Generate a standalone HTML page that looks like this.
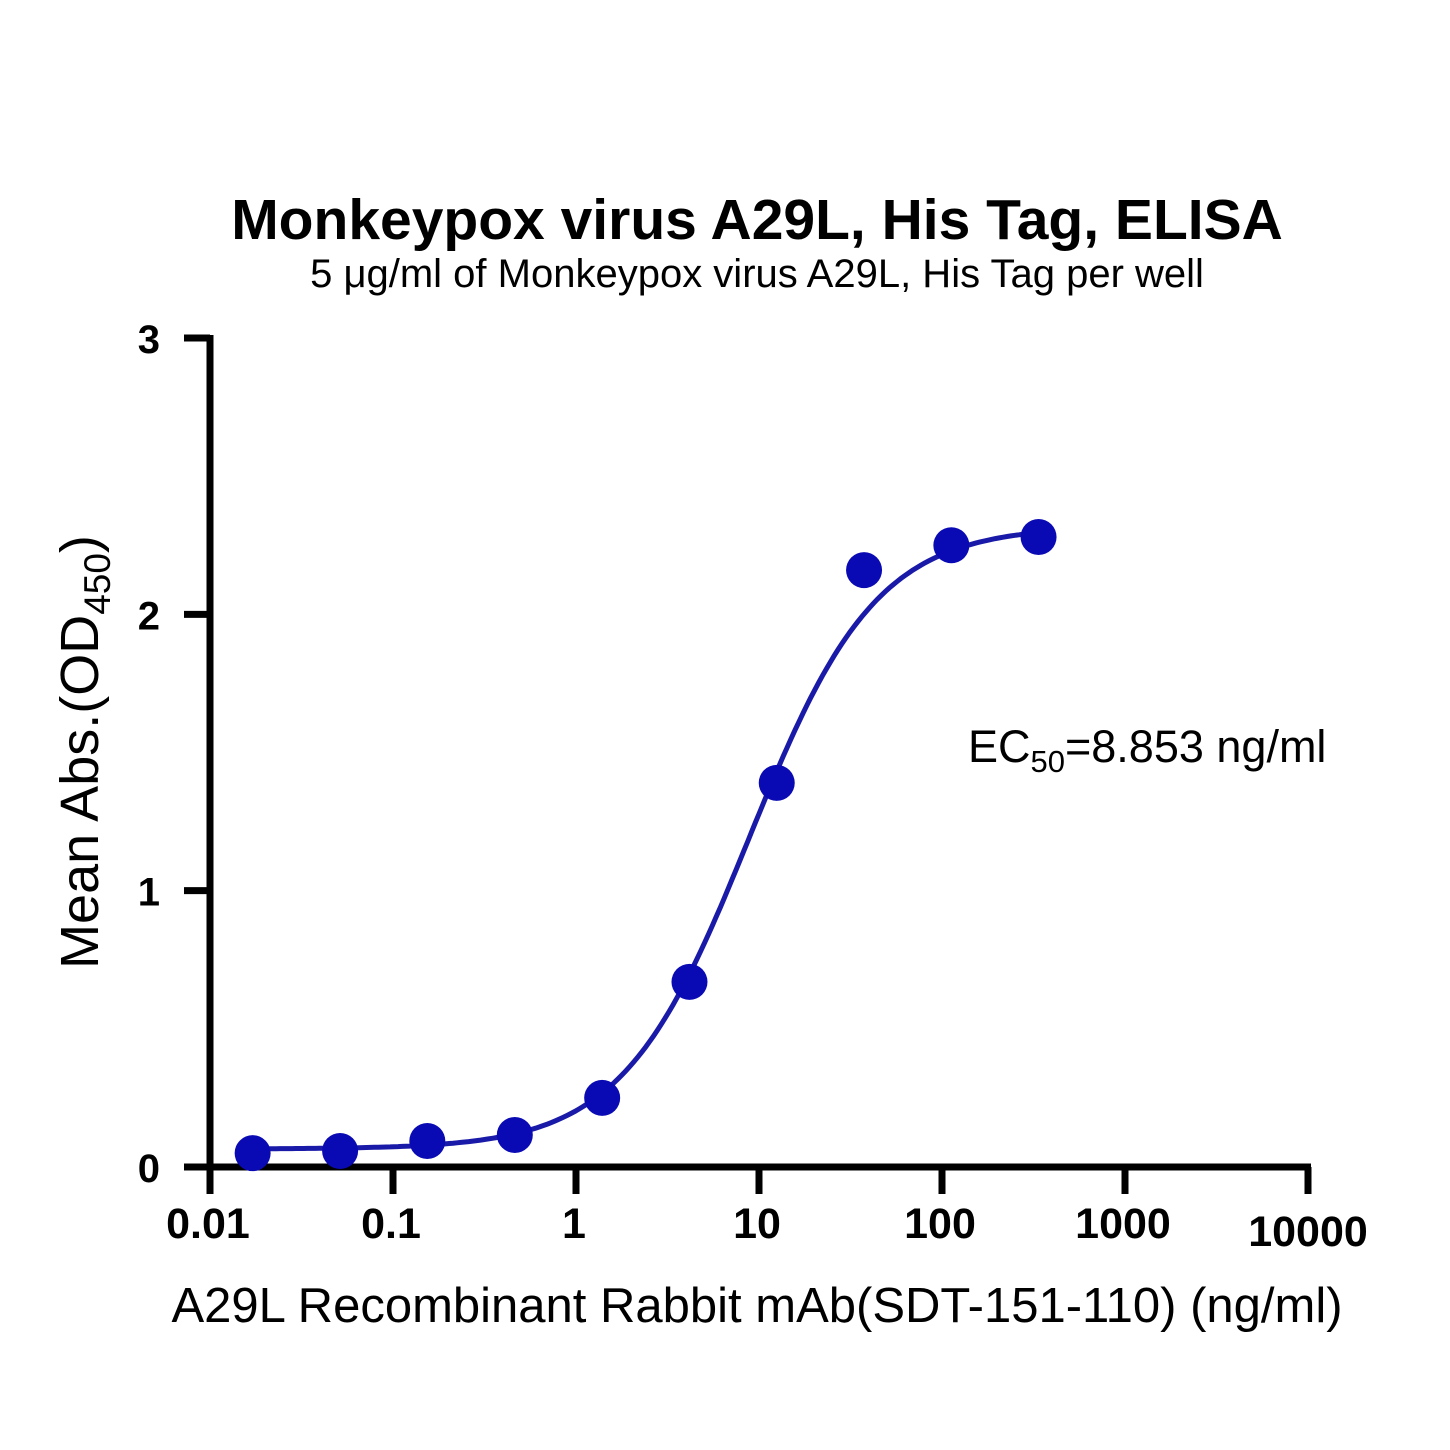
<!DOCTYPE html>
<html><head><meta charset="utf-8"><style>
body{margin:0;background:#fff;}
svg{display:block;font-family:"Liberation Sans",Arial,sans-serif;}
</style></head><body>
<svg id="chart" width="1450" height="1450" viewBox="0 0 1450 1450">
<rect width="1450" height="1450" fill="#fff"/>
<text x="757" y="239" text-anchor="middle" font-size="57" font-weight="bold">Monkeypox virus A29L, His Tag, ELISA</text>
<text x="757" y="287" text-anchor="middle" font-size="40">5 μg/ml of Monkeypox virus A29L, His Tag per well</text>
<text transform="translate(98,752) rotate(-90)" text-anchor="middle" font-size="54">Mean Abs.(OD<tspan font-size="37" dy="12">450</tspan><tspan dy="-12">)</tspan></text>
<text x="757" y="1322" text-anchor="middle" font-size="49">A29L Recombinant Rabbit mAb(SDT-151-110) (ng/ml)</text>
<text x="968" y="762" font-size="45">EC<tspan font-size="31" dy="10">50</tspan><tspan dy="-10">=8.853 ng/ml</tspan></text>
<g id="axes"></g>
<g id="curve"></g>
<g id="points"></g>
</svg>
<script>
const concentrations=[0.0171,0.0514,0.154,0.463,1.39,4.17,12.5,37.5,112.5,337];
const absorbance=[0.05,0.058,0.094,0.116,0.25,0.67,1.39,2.16,2.25,2.28];
const xTicks=[0.01,0.1,1,10,100,1000,10000];
const xTickLabels=["0.01","0.1","1","10","100","1000","10000"];
const yTicks=[0,1,2,3];
const yTickLabels=["0","1","2","3"];
const fitBottom=0.065, fitTop=2.32, fitEC50=8.853, fitHill=1.25;

const X0=210,X1=1308,Y0=1167,Y1=338;
const xs=v=>X0+(Math.log10(v)+2)/6*(X1-X0);
const ys=v=>Y0-v/3*(Y0-Y1);
const NS="http://www.w3.org/2000/svg";
function mk(tag,attrs,parent){const e=document.createElementNS(NS,tag);for(const k in attrs)e.setAttribute(k,attrs[k]);parent.appendChild(e);return e;}
const axes=document.getElementById('axes');
let e;
e=mk('line',{x1:X0,y1:Y1-3,x2:X0,y2:Y0+3,stroke:'#000','stroke-width':7},axes);


e=mk('line',{x1:X0-3,y1:Y0,x2:X1+3,y2:Y0,stroke:'#000','stroke-width':7},axes);


yTicks.forEach((t,i)=>{
  const y=ys(t);
  let l=mk('line',{x1:X0-26,y1:y,x2:X0,y2:y,stroke:'#000','stroke-width':7},axes);
  
  
  let tx=mk('text',{x:160,y:y+15,'text-anchor':'end','font-size':40,'font-weight':'bold'},axes);
  tx.textContent=yTickLabels[i];
  
  
});
xTicks.forEach((t,i)=>{
  const x=xs(t);
  let l=mk('line',{x1:x,y1:Y0,x2:x,y2:Y0+27,stroke:'#000','stroke-width':7},axes);
  
  
  const last=i===xTicks.length-1;
  let tx=mk('text',{x:last?x+0:x-2,y:last?1246:1238,'text-anchor':'middle','font-size':43,'font-weight':'bold'},axes);
  tx.textContent=xTickLabels[i];
  
  
});
const fit=c=>fitBottom+(fitTop-fitBottom)/(1+Math.pow(fitEC50/c,fitHill));
let d="";
const la=Math.log10(concentrations[0]),lb=Math.log10(concentrations[concentrations.length-1]);
for(let k=0;k<=200;k++){const c=Math.pow(10,la+(lb-la)*k/200);d+=(k?"L":"M")+xs(c).toFixed(1)+","+ys(fit(c)).toFixed(1);}
e=mk('path',{d:d,fill:'none',stroke:'#1a1aa8','stroke-width':5},document.getElementById('curve'));


const pts=document.getElementById('points');
concentrations.forEach((c,i)=>{
  let p=mk('circle',{cx:xs(c),cy:ys(absorbance[i]),r:18,fill:'#0a0ab4'},pts);
  
  
});
</script>
</body></html>
